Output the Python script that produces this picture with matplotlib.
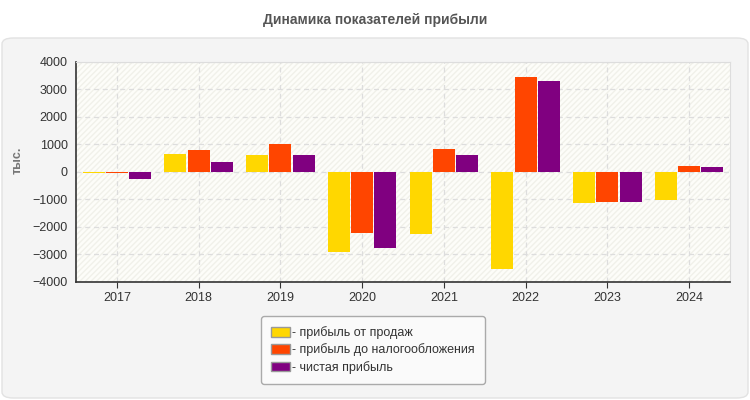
import numpy as np
import matplotlib.pyplot as plt
from matplotlib.patches import FancyBboxPatch, Rectangle, Patch

years = ['2017', '2018', '2019', '2020', '2021', '2022', '2023', '2024']
sales_profit = [-50, 670, 630, -2900, -2240, -3515, -1115, -1005]
pretax_profit = [-50, 810, 1030, -2230, 850, 3470, -1080, 230]
net_profit = [-240, 375, 630, -2750, 630, 3320, -1080, 195]
labels = ['- прибыль от продаж', '- прибыль до налогообложения', '- чистая прибыль']
colors = ['#ffd700', '#ff4500', '#800080']

plt.rcParams['font.family'] = ['Liberation Sans', 'DejaVu Sans']

fig = plt.figure(figsize=(7.5, 4), dpi=100)
fig.patch.set_facecolor('white')

# grey rounded panel behind the chart
panel = FancyBboxPatch((2 / 750, 2 / 400), 746 / 750, 360 / 400,
                       boxstyle='round,pad=0,rounding_size=0.015',
                       transform=fig.transFigure, facecolor='#f4f4f4',
                       edgecolor='#e2e2e2', linewidth=1, zorder=-10)
fig.patches.append(panel)

fig.text(0.5, 1 - 20 / 400, 'Динамика показателей прибыли', ha='center', va='center',
         fontsize=10, fontweight='bold', color='#555555')

ax = fig.add_axes([76 / 750, 1 - 282 / 400, 654 / 750, 220 / 400])
ax.set_zorder(1)
ax.set_facecolor('#fdfdf9')
ax.add_patch(Rectangle((0, 0), 1, 1, transform=ax.transAxes, facecolor='none',
                       edgecolor='#f1f1ea', hatch='//////', linewidth=0, zorder=0))

x = np.arange(len(years))
w = 0.27
off = 0.285
ax.bar(x - off, sales_profit, w, color=colors[0], zorder=3)
ax.bar(x, pretax_profit, w, color=colors[1], zorder=3)
ax.bar(x + off, net_profit, w, color=colors[2], zorder=3)

ax.set_xlim(-0.5, len(years) - 0.5)
ax.set_ylim(-4000, 4000)
ax.set_yticks(range(-4000, 4001, 1000))
ax.set_xticks(x)
ax.set_xticklabels(years)
ax.tick_params(axis='both', labelsize=9, colors='#333333', length=4)
ax.tick_params(axis='y', length=0, pad=6)
ax.grid(True, color='#dddddd', linestyle=(0, (4, 3)), linewidth=0.9, zorder=1)

for s in ['top', 'right']:
    ax.spines[s].set_color('#dddddd')
for s in ['left', 'bottom']:
    ax.spines[s].set_color('#333333')
    ax.spines[s].set_linewidth(1.2)

fig.text(18 / 750, 1 - 160 / 400, 'тыс.', rotation=90, ha='center', va='center',
         fontsize=9, fontweight='bold', color='#777777')

handles = [Patch(facecolor=c, edgecolor='#999999', linewidth=1) for c in colors]
leg = fig.legend(handles, labels, loc='center', bbox_to_anchor=(373 / 750, 1 - 350 / 400),
                 fontsize=9, frameon=True, fancybox=True, handlelength=1.5, handleheight=0.8,
                 handletextpad=0.2, labelspacing=0.35, borderpad=0.8, labelcolor='#333333')
leg.get_frame().set_facecolor('#fafafa')
leg.get_frame().set_edgecolor('#aaaaaa')
leg.get_frame().set_alpha(1)

fig.savefig('out.png', dpi=100, facecolor=fig.get_facecolor())
